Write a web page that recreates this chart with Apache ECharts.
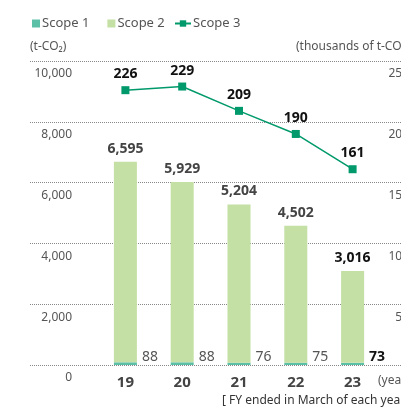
<!DOCTYPE html>
<html>
<head>
<meta charset="utf-8">
<script src="https://cdn.jsdelivr.net/npm/echarts@6/dist/echarts.min.js"></script>
<style>
  html, body { margin: 0; padding: 0; background: #fff; }
  #chart { width: 401px; height: 408px; }
</style>
</head>
<body>
<div id="chart"></div>
<script>
const years = ['19', '20', '21', '22', '23'];
const scope1 = [88, 88, 76, 75, 73];
const scope2 = [6595, 5929, 5204, 4502, 3016];
const scope3 = [226, 229, 209, 190, 161]; // thousands of t-CO2

const FONT = '"Noto Sans", "Open Sans", sans-serif';
const last = years.length - 1;

// latest year is highlighted in black
function withLastLabel(arr, style) {
  return arr.map((v, i) => i === last ? { value: v, label: style } : v);
}

const chart = echarts.init(document.getElementById('chart'));

chart.setOption({
  animation: false,
  textStyle: { fontFamily: FONT },
  legend: [
    {
      left: 32, top: 17, padding: 0, icon: 'rect',
      itemWidth: 8, itemHeight: 8, itemGap: 18,
      textStyle: { color: '#555', fontSize: 13, fontFamily: FONT, padding: [0, 0, 0, -3] },
      data: ['Scope 1', 'Scope 2']
    },
    {
      left: 174, top: 17, padding: 0,
      itemWidth: 16, itemHeight: 8,
      textStyle: { color: '#555', fontSize: 13, fontFamily: FONT, padding: [0, 0, 0, -3] },
      data: ['Scope 3']
    }
  ],
  grid: [
    { left: 30, right: 0, top: 61, bottom: 43, outerBoundsMode: 'none', containLabel: false },  // full-width dotted gridlines
    { left: 97, right: 20, top: 61, bottom: 43, outerBoundsMode: 'none', containLabel: false }  // marks
  ],
  xAxis: [
    { gridIndex: 0, type: 'category', data: years, show: false },
    {
      gridIndex: 1, type: 'category', data: years,
      axisLine: { show: false }, axisTick: { show: false },
      axisLabel: { color: '#444', fontSize: 15, fontWeight: 'bold', margin: 10, fontFamily: FONT }
    }
  ],
  yAxis: [
    {
      gridIndex: 0, min: 0, max: 10000, interval: 2000,
      axisLine: { show: false }, axisTick: { show: false }, axisLabel: { show: false },
      splitLine: { lineStyle: { color: '#888', type: 'dotted', width: 1 } }
    },
    {
      gridIndex: 1, min: 0, max: 10000, interval: 2000,
      axisLine: { show: false }, axisTick: { show: false }, splitLine: { show: false },
      axisLabel: {
        color: '#555', fontSize: 12, margin: 25, verticalAlign: 'top', padding: [7, 0, 0, 0],
        fontFamily: FONT,
        formatter: v => v.toLocaleString('en-US')
      }
    },
    {
      gridIndex: 1, position: 'right', min: 0, max: 250, interval: 50,
      axisLine: { show: false }, axisTick: { show: false }, splitLine: { show: false },
      axisLabel: {
        color: '#555', fontSize: 12, margin: 28, align: 'right', verticalAlign: 'top',
        padding: [7, 0, 0, 0], showMinLabel: false, fontFamily: FONT
      }
    }
  ],
  series: [
    {
      name: 'Scope 1', type: 'bar', stack: 'total', xAxisIndex: 1, yAxisIndex: 1,
      barWidth: 23,
      itemStyle: { color: '#5cc0a6' },
      label: {
        show: true, position: 'right', distance: 5, offset: [0, -7],
        color: '#555', fontSize: 14, fontFamily: FONT
      },
      data: withLastLabel(scope1, { color: '#111', fontWeight: 'bold' })
    },
    {
      name: 'Scope 2', type: 'bar', stack: 'total', xAxisIndex: 1, yAxisIndex: 1,
      barWidth: 23,
      itemStyle: { color: '#c4e0a4' },
      label: {
        show: true, position: 'top', distance: 6,
        color: '#444', fontSize: 14, fontWeight: 'bold', fontFamily: FONT,
        formatter: p => p.value.toLocaleString('en-US')
      },
      data: withLastLabel(scope2, { color: '#111' })
    },
    {
      name: 'Scope 3', type: 'line', xAxisIndex: 1, yAxisIndex: 2,
      symbol: 'rect', symbolSize: 8,
      lineStyle: { color: '#00996b', width: 1.5 },
      itemStyle: { color: '#00996b' },
      label: {
        show: true, position: 'top', distance: 5,
        color: '#111', fontSize: 14, fontWeight: 'bold', fontFamily: FONT
      },
      data: scope3
    }
  ],
  graphic: [
    { type: 'text', left: 30, top: 41, style: { text: '(t-CO₂)', fill: '#555', fontSize: 12, fontFamily: FONT } },
    { type: 'text', left: 296, top: 41, style: { text: '(thousands of t-CO₂)', fill: '#555', fontSize: 12, fontFamily: FONT } },
    { type: 'text', left: 378, top: 375, style: { text: '(year)', fill: '#555', fontSize: 12, fontFamily: FONT } },
    { type: 'text', left: 222, top: 395, style: { text: '[ FY ended in March of each year ]', fill: '#333', fontSize: 12, fontFamily: FONT } }
  ]
});
</script>
</body>
</html>
